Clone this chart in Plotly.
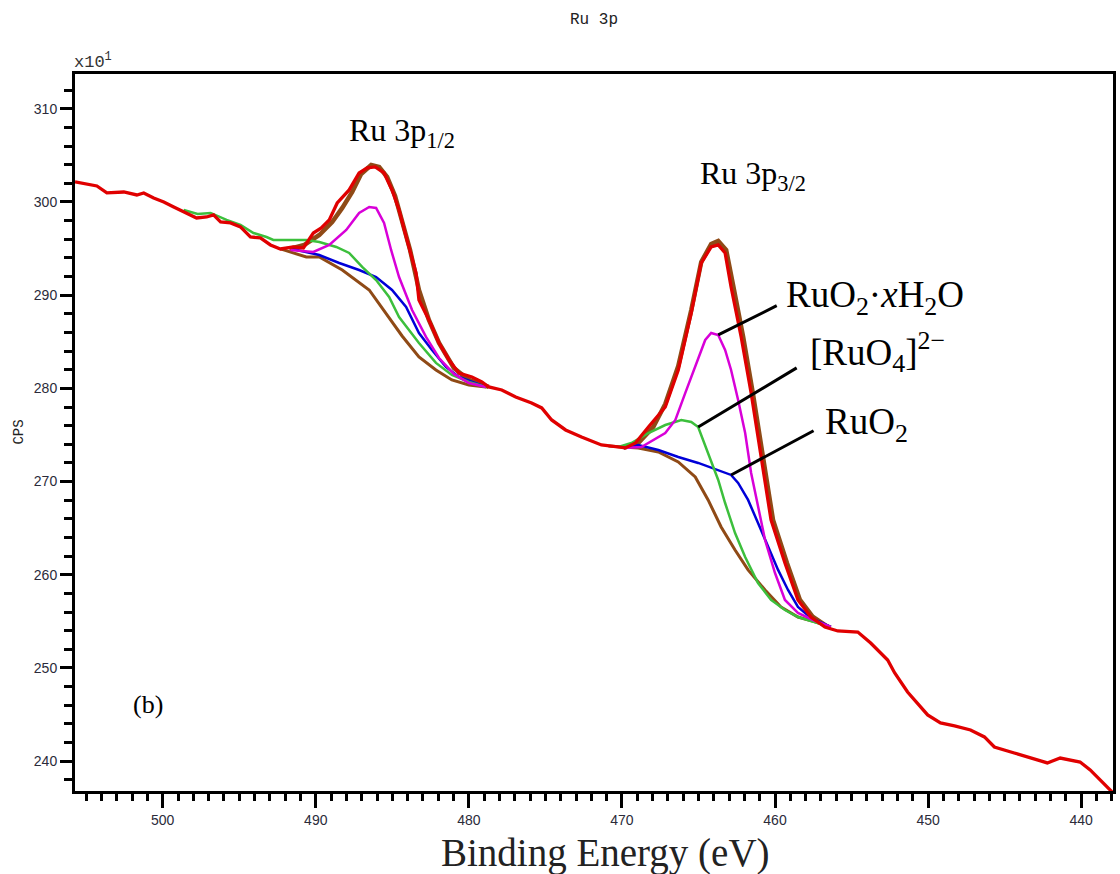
import plotly.graph_objects as go

# ---------------- data (binding energy in eV, intensity in CPS x10^1) ----------------
be_total = [505.73, 504.95, 504.30, 503.65, 502.54, 501.69, 501.24, 500.59, 499.93, 499.28,
            498.63, 497.79, 497.13, 496.68, 496.22, 495.57, 494.92, 494.27, 493.62, 492.96,
            492.31, 491.47, 490.81, 490.16, 489.64, 489.12, 488.60, 487.82, 487.17, 486.64,
            486.12, 485.54, 485.02, 484.56, 484.04, 483.45, 483.26, 482.61, 481.95, 481.30,
            480.65, 479.80, 479.15, 478.70, 477.85, 476.94, 475.90, 475.24, 474.59, 473.68,
            472.64, 471.34, 469.77, 469.12, 468.27, 467.17, 466.32, 465.47, 464.82, 464.17,
            463.71, 463.26, 462.87, 462.21, 461.56, 460.91, 460.26, 459.35, 458.50, 457.65,
            456.74, 455.90, 454.59, 453.75, 452.64, 452.18, 451.34, 450.03, 449.19, 448.27,
            447.23, 446.32, 445.67, 444.37, 443.32, 442.21, 441.37, 440.07, 439.41, 438.76,
            437.98]
cps_total = [302.15, 301.93, 301.72, 300.97, 301.07, 300.75, 300.97, 300.43, 300.00, 299.46,
             298.93, 298.28, 298.39, 298.61, 297.85, 297.75, 297.32, 296.24, 296.14, 295.39,
             294.96, 295.17, 295.06, 296.67, 297.21, 298.07, 299.89, 301.29, 303.11, 303.65,
             303.76, 303.11, 301.29, 299.14, 295.92, 292.38, 289.49, 287.34, 284.87, 283.05,
             281.65, 281.22, 280.69, 280.15, 279.83, 279.08, 278.43, 277.90, 276.61, 275.54,
             274.79, 273.93, 273.61, 274.14, 275.86, 278.00, 281.97, 288.09, 293.45, 295.17,
             295.39, 294.53, 290.88, 285.52, 279.51, 272.85, 265.88, 261.27, 257.30, 255.47,
             254.40, 253.97, 253.86, 252.68, 250.86, 249.46, 247.42, 244.96, 244.10, 243.78,
             243.35, 242.60, 241.52, 240.88, 240.34, 239.81, 240.34, 239.91, 239.06, 237.98,
             236.70]

# Shirley-type backgrounds (brown)
be_bg_p12 = [492.31, 490.62, 489.77, 488.27, 486.51, 485.41, 484.36, 483.26, 482.15, 481.11, 480.00, 478.89]
cps_bg_p12 = [294.96, 294.10, 294.10, 292.70, 290.56, 288.09, 285.62, 283.37, 281.97, 280.90, 280.36, 280.15]
be_bg_p32 = [470.88, 468.93, 467.62, 466.32, 465.21, 464.37, 463.52, 462.61, 461.76, 460.65, 459.61, 458.50, 457.39, 456.35]
cps_bg_p32 = [273.82, 273.61, 273.18, 272.10, 270.49, 268.03, 265.13, 262.66, 260.52, 258.37, 256.55, 255.47, 254.94, 254.40]

# Fit envelopes (brown)
be_env_p12 = [491.73, 490.75, 489.77, 488.93, 488.27, 487.62, 487.04, 486.38, 485.86, 485.34,
              484.82, 484.36, 483.84, 483.26, 482.61, 481.95, 480.98, 480.00, 478.70]
cps_env_p12 = [294.96, 295.39, 296.46, 297.85, 299.36, 301.07, 303.00, 303.97, 303.76, 302.68,
               300.64, 298.07, 294.85, 290.56, 287.34, 284.87, 282.19, 280.90, 280.15]
be_env_p32 = [469.90, 468.93, 467.95, 467.17, 466.32, 465.47, 464.82, 464.17, 463.71, 463.19,
              462.74, 462.08, 461.43, 460.78, 460.13, 459.22, 458.37, 457.52, 456.55]
cps_env_p32 = [273.61, 274.14, 275.86, 278.33, 282.40, 288.41, 293.56, 295.49, 295.82, 294.85,
               291.09, 285.52, 279.29, 272.53, 265.88, 261.27, 257.30, 255.47, 254.40]

# RuO2·xH2O component (magenta)
be_hyd_p12 = [491.66, 490.16, 489.12, 488.01, 487.17, 486.51, 486.06, 485.54, 485.08, 484.56,
              483.71, 483.26, 482.80, 481.95, 480.98, 480.00, 478.89]
cps_hyd_p12 = [294.85, 294.64, 295.39, 296.99, 298.82, 299.46, 299.36, 297.75, 294.85, 291.95,
               288.41, 287.02, 285.52, 283.26, 281.55, 280.58, 280.15]
be_hyd_p32 = [469.90, 468.73, 467.17, 466.51, 465.86, 465.21, 464.56, 464.17, 463.71, 463.26,
              462.87, 462.41, 461.95, 461.56, 461.30, 460.65, 460.00, 459.35, 458.50, 457.52, 456.35]
cps_hyd_p32 = [273.61, 273.71, 275.21, 276.61, 279.51, 282.30, 285.19, 285.94, 285.73, 284.12,
               281.97, 278.76, 275.21, 270.92, 268.78, 263.73, 260.19, 257.30, 255.90, 255.15, 254.40]

# [RuO4]2- component (green)
be_ruo4_p12 = [498.63, 497.72, 496.87, 495.83, 494.92, 494.07, 493.22, 492.77, 490.62, 489.77,
               488.66, 487.82, 486.97, 486.06, 485.21, 484.56, 483.26, 482.15, 481.11, 480.00, 478.89]
cps_ruo4_p12 = [299.14, 298.71, 298.82, 298.07, 297.53, 296.67, 296.24, 295.92, 295.92, 295.71,
                295.17, 294.53, 293.03, 291.63, 289.81, 287.66, 284.87, 282.73, 281.44, 280.69, 280.15]
be_ruo4_p32 = [470.23, 469.38, 468.27, 467.17, 466.12, 465.47, 465.02, 464.37, 463.71, 463.26,
               462.61, 461.95, 461.11, 460.26, 459.35, 458.50, 457.39, 456.35]
cps_ruo4_p32 = [273.71, 274.14, 275.21, 276.07, 276.61, 276.39, 275.86, 273.07, 270.17, 267.70,
                264.48, 261.91, 259.12, 257.30, 256.22, 255.47, 254.94, 254.40]

# RuO2 component (blue)
be_ruo2_p12 = [491.53, 489.77, 488.47, 487.17, 486.06, 485.02, 484.10, 483.26, 482.41, 481.50,
               480.65, 479.67, 478.89]
cps_ruo2_p12 = [294.96, 294.31, 293.45, 292.70, 291.95, 290.56, 288.73, 285.94, 284.12, 282.30,
                281.22, 280.58, 280.15]
be_ruo2_p32 = [469.90, 468.93, 467.62, 466.32, 465.02, 463.71, 462.87, 462.41, 461.76, 461.11,
               460.46, 459.80, 459.15, 458.50, 457.65, 456.35]
cps_ruo2_p32 = [273.61, 273.93, 273.39, 272.64, 272.00, 271.24, 270.71, 269.85, 268.03, 265.56,
                262.98, 260.52, 258.37, 256.55, 255.36, 254.40]

x_tick_vals = [500, 490, 480, 470, 460, 450, 440]
y_tick_vals = [240, 250, 260, 270, 280, 290, 300, 310]

RED = "#e00000"
BROWN = "#8f4a16"
MAGENTA = "#d800d8"
GREEN = "#3cbf3c"
BLUE = "#0000d8"

fig = go.Figure()

def add(x, y, color, width):
    fig.add_trace(go.Scatter(x=x, y=y, mode="lines", line=dict(color=color, width=width),
                             showlegend=False, hoverinfo="skip"))

add(be_bg_p12, cps_bg_p12, BROWN, 3)
add(be_bg_p32, cps_bg_p32, BROWN, 3)
add(be_env_p12, cps_env_p12, BROWN, 4.5)
add(be_env_p32, cps_env_p32, BROWN, 4.5)
add(be_ruo2_p12, cps_ruo2_p12, BLUE, 2.5)
add(be_ruo2_p32, cps_ruo2_p32, BLUE, 2.5)
add(be_ruo4_p12, cps_ruo4_p12, GREEN, 2.5)
add(be_ruo4_p32, cps_ruo4_p32, GREEN, 2.5)
add(be_hyd_p12, cps_hyd_p12, MAGENTA, 2.5)
add(be_hyd_p32, cps_hyd_p32, MAGENTA, 2.5)
add(be_total, cps_total, RED, 3.3)

tickfont = dict(family="Liberation Sans", size=14, color="#2b2b3a")

fig.update_layout(
    width=1120, height=874,
    margin=dict(l=75, r=4, t=74, b=83),
    paper_bgcolor="white", plot_bgcolor="white",
    xaxis=dict(range=[505.73, 437.92], tickvals=x_tick_vals, ticks="outside", ticklen=14,
               tickwidth=2.5, tickcolor="black", showline=True, linecolor="black", linewidth=3,
               mirror=True, showgrid=False, zeroline=False, tickfont=tickfont,
               minor=dict(dtick=1, ticks="outside", ticklen=7, tickwidth=2.5, tickcolor="black",
                          showgrid=False)),
    yaxis=dict(range=[236.8, 313.73], tickvals=y_tick_vals, ticks="outside", ticklen=12,
               tickwidth=2.5, tickcolor="black", showline=True, linecolor="black", linewidth=3,
               mirror=True, showgrid=False, zeroline=False, tickfont=tickfont,
               minor=dict(dtick=2, ticks="outside", ticklen=8, tickwidth=2.5, tickcolor="black",
                          showgrid=False)),
)

serif = "Liberation Serif"
ann = []

def label(text, x, y, size, family=serif, xanchor="left", color="black", **kw):
    ann.append(dict(text=text, xref="paper", yref="paper", x=x, y=y, xanchor=xanchor,
                    yanchor="middle", showarrow=False,
                    font=dict(family=family, size=size, color=color), **kw))

# titles / axis labels
label("Ru 3p", 0.5, 1.075, 16, family="Liberation Mono", xanchor="center", color="#222")
label("Binding Energy (eV)", 0.511, -0.0865, 39, xanchor="center", color="#222")
label("CPS", -0.0548, 0.5, 14, family="Liberation Mono", xanchor="center", color="#222",
      textangle=-90)
ann.append(dict(text="x10<sup>1</sup>", xref="paper", yref="paper", x=-0.003, y=1.0,
                xanchor="left", yanchor="bottom", showarrow=False,
                font=dict(family="Liberation Mono", size=17, color="#333")))
# peak labels
label("Ru 3p<sub>1/2</sub>", 0.2622, 0.919, 32)
label("Ru 3p<sub>3/2</sub>", 0.6004, 0.859, 32)
label("RuO<sub>2</sub>·<i>x</i>H<sub>2</sub>O", 0.683, 0.6876, 37)
label("[RuO<sub>4</sub>]<sup>2−</sup>", 0.706, 0.6123, 37)
label("RuO<sub>2</sub>", 0.7205, 0.5105, 37)
label("(b)", 0.0538, 0.12, 26)

# leader lines anchored on the component curves
for xi, yi, axp, ayp in [(be_hyd_p32[8], cps_hyd_p32[8], 60, -30),
                         (be_ruo4_p32[6], cps_ruo4_p32[6], 100, -60),
                         (be_ruo2_p32[6], cps_ruo2_p32[6], 84, -45)]:
    ann.append(dict(text="", x=xi, y=yi, xref="x", yref="y", ax=axp, ay=ayp,
                    showarrow=True, arrowhead=0, arrowwidth=3, arrowcolor="black"))

fig.update_layout(annotations=ann)
fig.write_html("out.html")
